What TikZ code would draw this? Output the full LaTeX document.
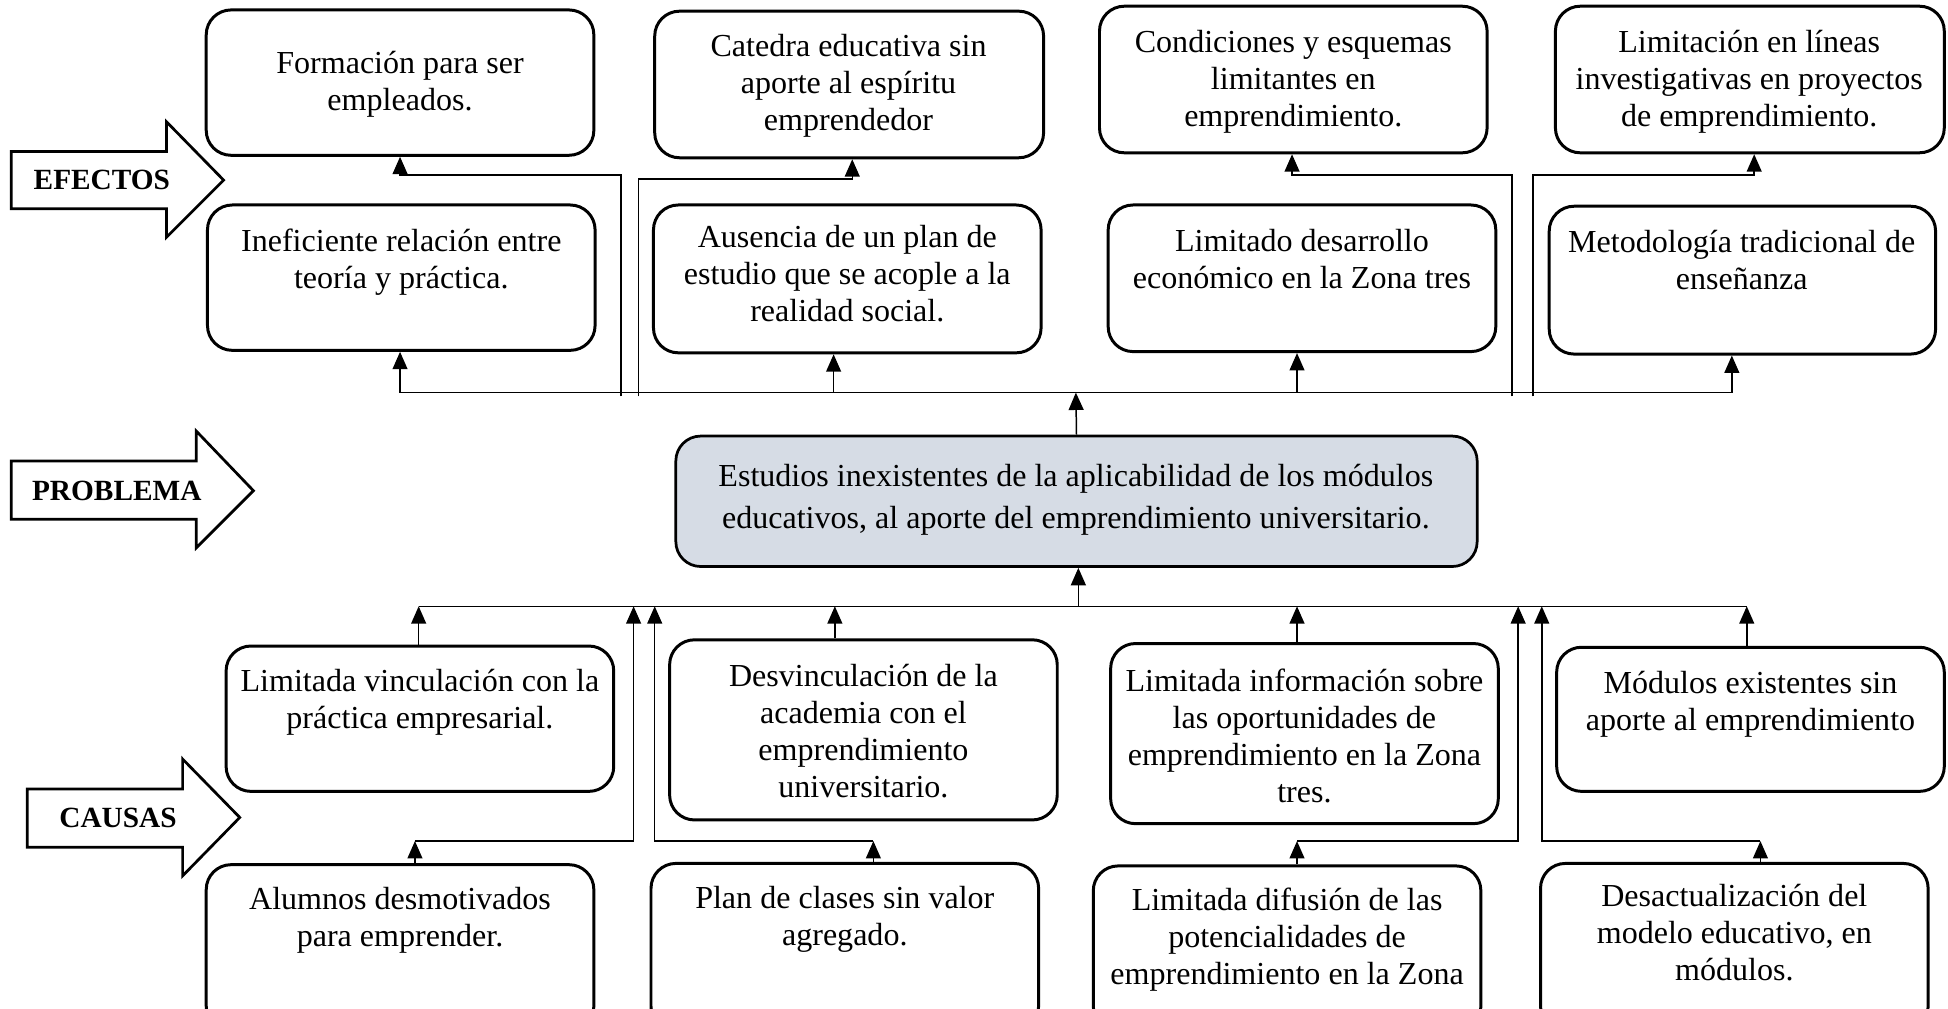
\documentclass[tikz,border=0pt]{standalone}
\usepackage{fontspec}
\setmainfont{Liberation Serif}
\usetikzlibrary{arrows.meta,fit}
\definecolor{probfill}{HTML}{D6DCE5}
\begin{document}
\begin{tikzpicture}[x=0.5pt,y=-0.5pt,
  bx/.style={draw, line width=1.2pt, rounded corners=10pt, inner sep=0pt},
  pbx/.style={bx, fill=probfill, line width=1.1pt},
  txt/.style={anchor=north, align=center, inner sep=0pt, font=\fontsize{12.9}{14.9}\selectfont},
  lbl/.style={inner sep=0pt, font=\fontsize{11.8}{13}\selectfont\bfseries},
  lab/.style={draw, line width=1.1pt, fill=white, line join=miter},
  con/.style={line width=0.6pt},
  arr/.style={con, -{Triangle[width=6pt,length=7pt]}}
]
\useasboundingbox (0,0) rectangle (1568,812);
\clip (0,0) rectangle (1568,812);

% ---------- label arrows ----------
\draw[lab] (9,122) -- (134,122) -- (134,98) -- (180,145) -- (134,191) -- (134,168) -- (9,168) -- cycle;
\node[lbl] (efectos) at (82,145) {EFECTOS};
\draw[lab] (9,371) -- (158,371) -- (158,347) -- (204,395) -- (158,441) -- (158,418) -- (9,418) -- cycle;
\node[lbl] (problema) at (94,395) {PROBLEMA};
\draw[lab] (22,635) -- (147,635) -- (147,611) -- (193,658) -- (147,705) -- (147,682) -- (22,682) -- cycle;
\node[lbl] (causas) at (95,658) {CAUSAS};

% ---------- effect boxes ----------
\node[bx, fit={(166,8) (478,125)}] (e1) {};
\node[txt] (e1t) at (322,41) {Formación para ser\\empleados.};
\node[bx, fit={(527,9) (840,127)}] (e2) {};
\node[txt] (e2t) at (683,27) {Catedra educativa sin\\aporte al espíritu\\emprendedor};
\node[bx, fit={(885,5) (1197,123)}] (e3) {};
\node[txt] (e3t) at (1041,24) {Condiciones y esquemas\\limitantes en\\emprendimiento.};
\node[bx, fit={(1252,5) (1565,123)}] (e4) {};
\node[txt] (e4t) at (1408,24) {Limitación en líneas\\investigativas en proyectos\\de emprendimiento.};

\node[bx, fit={(167,165) (479,282)}] (e5) {};
\node[txt] (e5t) at (323,184) {Ineficiente relación entre\\teoría y práctica.};
\node[bx, fit={(526,165) (838,284)}] (e6) {};
\node[txt] (e6t) at (682,181) {Ausencia de un plan de\\estudio que se acople a la\\realidad social.};
\node[bx, fit={(892,165) (1204,283)}] (e7) {};
\node[txt] (e7t) at (1048,184) {Limitado desarrollo\\económico en la Zona tres};
\node[bx, fit={(1247,166) (1558,285)}] (e8) {};
\node[txt] (e8t) at (1402,185) {Metodología tradicional de\\enseñanza};

% ---------- problem ----------
\node[pbx, fit={(544,351) (1189,456)}] (p) {};
\node[txt, font=\fontsize{12.9}{17}\selectfont] (pt) at (866,373) {Estudios inexistentes de la aplicabilidad de los módulos\\educativos, al aporte del emprendimiento universitario.};

% ---------- cause boxes ----------
\node[bx, fit={(182,520) (494,637)}] (c1) {};
\node[txt] (c1t) at (338,538) {Limitada vinculación con la\\práctica empresarial.};
\node[bx, fit={(539,515) (851,660)}] (c2) {};
\node[txt] (c2t) at (695,534) {Desvinculación de la\\academia con el\\emprendimiento\\universitario.};
\node[bx, fit={(894,518) (1206,663)}] (c3) {};
\node[txt] (c3t) at (1050,538) {Limitada información sobre\\las oportunidades de\\emprendimiento en la Zona\\tres.};
\node[bx, fit={(1253,521) (1565,637)}] (c4) {};
\node[txt] (c4t) at (1409,540) {Módulos existentes sin\\aporte al emprendimiento};

\node[bx, fit={(166,696) (478,830)}] (c5) {};
\node[txt] (c5t) at (322,714) {Alumnos desmotivados\\para emprender.};
\node[bx, fit={(524,695) (836,830)}] (c6) {};
\node[txt] (c6t) at (680,713) {Plan de clases sin valor\\agregado.};
\node[bx, fit={(880,697) (1192,830)}] (c7) {};
\node[txt] (c7t) at (1036,714) {Limitada difusión de las\\potencialidades de\\emprendimiento en la Zona};
\node[bx, fit={(1240,695) (1552,830)}] (c8) {};
\node[txt] (c8t) at (1396,711) {Desactualización del\\modelo educativo, en\\módulos.};

% ---------- effect connectors ----------
\coordinate (busT) at (866,316);
\draw[arr] (p.north) -- (busT);
\coordinate (t1) at (322,316);
\coordinate (t2) at (671,316);
\coordinate (t3) at (1044,316);
\coordinate (t4) at (1394,316);
\draw[con] (t1) -- (t4);
\draw[arr] (t1) -- (t1 |- e5.south);
\draw[arr] (t2) -- (t2 |- e6.south);
\draw[arr] (t3) -- (t3 |- e7.south);
\draw[arr] (t4) -- (t4 |- e8.south);

\coordinate (v1) at (500,319); \coordinate (h1) at (322,141);
\draw[arr] (v1) |- (h1) -- (h1 |- e1.south);
\coordinate (v2) at (514,319); \coordinate (h2) at (686,144);
\draw[arr] (v2) |- (h2) -- (h2 |- e2.south);
\coordinate (v3) at (1217,319); \coordinate (h3) at (1040,141);
\draw[arr] (v3) |- (h3) -- (h3 |- e3.south);
\coordinate (v4) at (1234,319); \coordinate (h4) at (1412,141);
\draw[arr] (v4) |- (h4) -- (h4 |- e4.south);

% ---------- cause connectors ----------
\coordinate (busB) at (868,488);
\draw[arr] (busB) -- (busB |- p.south);
\coordinate (b1) at (337,488);
\coordinate (b2) at (672,488);
\coordinate (b3) at (1044,488);
\coordinate (b4) at (1406,488);
\draw[con] (b1) -- (b4);
\draw[arr] (b1 |- c1.north) -- (b1);
\draw[arr] (b2 |- c2.north) -- (b2);
\draw[arr] (b3 |- c3.north) -- (b3);
\draw[arr] (b4 |- c4.north) -- (b4);

\coordinate (l1) at (334,677); \coordinate (u1) at (510,488);
\draw[arr] (l1 |- c5.north) -- (l1);
\draw[arr] (l1) -| (u1);
\coordinate (l2) at (703,677); \coordinate (u2) at (527,488);
\draw[arr] (l2 |- c6.north) -- (l2);
\draw[arr] (l2) -| (u2);
\coordinate (l3) at (1044,677); \coordinate (u3) at (1222,488);
\draw[arr] (l3 |- c7.north) -- (l3);
\draw[arr] (l3) -| (u3);
\coordinate (l4) at (1417,677); \coordinate (u4) at (1241,488);
\draw[arr] (l4 |- c8.north) -- (l4);
\draw[arr] (l4) -| (u4);
\end{tikzpicture}
\end{document}
